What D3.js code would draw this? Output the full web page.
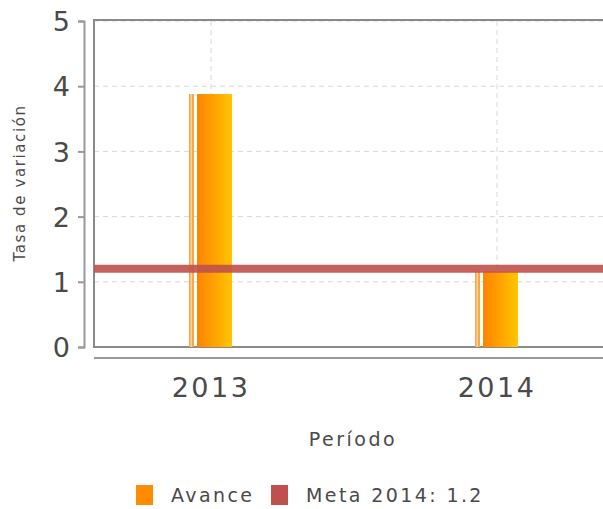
<!DOCTYPE html>
<html>
<head>
<meta charset="utf-8">
<script src="https://cdn.jsdelivr.net/npm/d3@7"></script>
<style>
  body { margin: 0; background: #fff; }
  text { font-family: "DejaVu Sans", sans-serif; fill: #4a4a4a; }
</style>
</head>
<body>
<div id="chart"></div>
<script>
// data
var categories = ["2013", "2014"];
var avance = [3.88, 1.16];
var metaValue = 1.2;
var yTicks = [0, 1, 2, 3, 4, 5];
var legendLabels = ["Avance", "Meta 2014: 1.2"];

var width = 603, height = 509;
var plot = { left: 94, top: 21, right: 614, bottom: 347 };

var svg = d3.select("#chart").append("svg")
  .attr("width", width)
  .attr("height", height);

var defs = svg.append("defs");
var grad = defs.append("linearGradient").attr("id", "barGrad")
  .attr("x1", "0%").attr("x2", "100%").attr("y1", "0%").attr("y2", "0%");
grad.append("stop").attr("offset", "0%").attr("stop-color", "#ff8400");
grad.append("stop").attr("offset", "55%").attr("stop-color", "#ffa600");
grad.append("stop").attr("offset", "100%").attr("stop-color", "#ffc600");

var y = d3.scaleLinear().domain([0, 5]).range([plot.bottom, plot.top]);
var x = d3.scalePoint().domain(categories).range([211, 497]);

// grid lines
svg.append("g").selectAll("line").data(yTicks.slice(1)).enter().append("line")
  .attr("x1", plot.left).attr("x2", width)
  .attr("y1", function (d) { return y(d); }).attr("y2", function (d) { return y(d); })
  .attr("stroke", "#d8d8d8").attr("stroke-width", 1).attr("stroke-dasharray", "5,4");
svg.append("g").selectAll("line").data(categories).enter().append("line")
  .attr("x1", function (d) { return x(d); }).attr("x2", function (d) { return x(d); })
  .attr("y1", plot.top).attr("y2", plot.bottom)
  .attr("stroke", "#d8d8d8").attr("stroke-width", 1).attr("stroke-dasharray", "5,4");

// plot border
svg.append("path")
  .attr("d", "M" + width + "," + (plot.top - 1) + "H" + plot.left + "V" + plot.bottom + "H" + width)
  .attr("fill", "none").attr("stroke", "#8a8a8a").attr("stroke-width", 2);

// bars: thin highlight strip + gradient bar
var bars = svg.append("g").selectAll("g").data(avance).enter().append("g");
bars.append("rect")
  .attr("x", function (d, i) { return x(categories[i]) - 22; })
  .attr("width", 5)
  .attr("y", function (d) { return y(d); })
  .attr("height", function (d) { return plot.bottom - y(d); })
  .attr("fill", "#f6a848");
bars.append("rect")
  .attr("x", function (d, i) { return x(categories[i]) - 20.5; })
  .attr("width", 1.5)
  .attr("y", function (d) { return y(d); })
  .attr("height", function (d) { return plot.bottom - y(d); })
  .attr("fill", "#fbd49a");
bars.append("rect")
  .attr("x", function (d, i) { return x(categories[i]) - 14; })
  .attr("width", 35)
  .attr("y", function (d) { return y(d); })
  .attr("height", function (d) { return plot.bottom - y(d); })
  .attr("fill", "url(#barGrad)");

// meta line
svg.append("line")
  .attr("x1", plot.left).attr("x2", width)
  .attr("y1", y(metaValue)).attr("y2", y(metaValue))
  .attr("stroke", "#c0504d").attr("stroke-opacity", 0.9).attr("stroke-width", 8);

// y axis (offset from plot)
var yAxis = d3.axisLeft(y).tickValues(yTicks).tickFormat(d3.format("d")).tickSize(6).tickPadding(8);
var gy = svg.append("g").attr("transform", "translate(84,0)").call(yAxis);
gy.select(".domain").attr("stroke", "#999").attr("stroke-width", 2);
gy.selectAll(".tick line").attr("stroke", "#999").attr("stroke-width", 2);
gy.selectAll(".tick text")
  .style("font-size", "27px").style("font-family", "DejaVu Sans, sans-serif")
  .attr("fill", "#4a4a4a").attr("dy", "0.36em");

// x axis line
svg.append("line")
  .attr("x1", plot.left).attr("x2", width)
  .attr("y1", 358).attr("y2", 358)
  .attr("stroke", "#999").attr("stroke-width", 2);

// x tick labels
svg.append("g").selectAll("text").data(categories).enter().append("text")
  .attr("x", function (d) { return x(d); })
  .attr("y", 397)
  .attr("text-anchor", "middle")
  .style("font-size", "27px").style("letter-spacing", "2.5px")
  .text(function (d) { return d; });

// axis titles
svg.append("text")
  .attr("transform", "translate(25,183) rotate(-90)")
  .attr("text-anchor", "middle")
  .style("font-size", "15px").style("letter-spacing", "1.6px")
  .text("Tasa de variación");

svg.append("text")
  .attr("x", 353).attr("y", 446)
  .attr("text-anchor", "middle")
  .style("font-size", "19px").style("letter-spacing", "2.5px")
  .text("Período");

// legend
var legendColors = ["#ff8c00", "#c0504d"];
var legendX = [136, 271];
var lg = svg.append("g").selectAll("g").data(legendLabels).enter().append("g")
  .attr("transform", function (d, i) { return "translate(" + legendX[i] + ",485)"; });
lg.append("rect").attr("width", 17).attr("height", 20)
  .attr("fill", function (d, i) { return legendColors[i]; });
lg.append("text").attr("x", 35).attr("y", 17)
  .style("font-size", "19px").style("letter-spacing", "2.4px")
  .text(function (d) { return d; });
</script>
</body>
</html>
